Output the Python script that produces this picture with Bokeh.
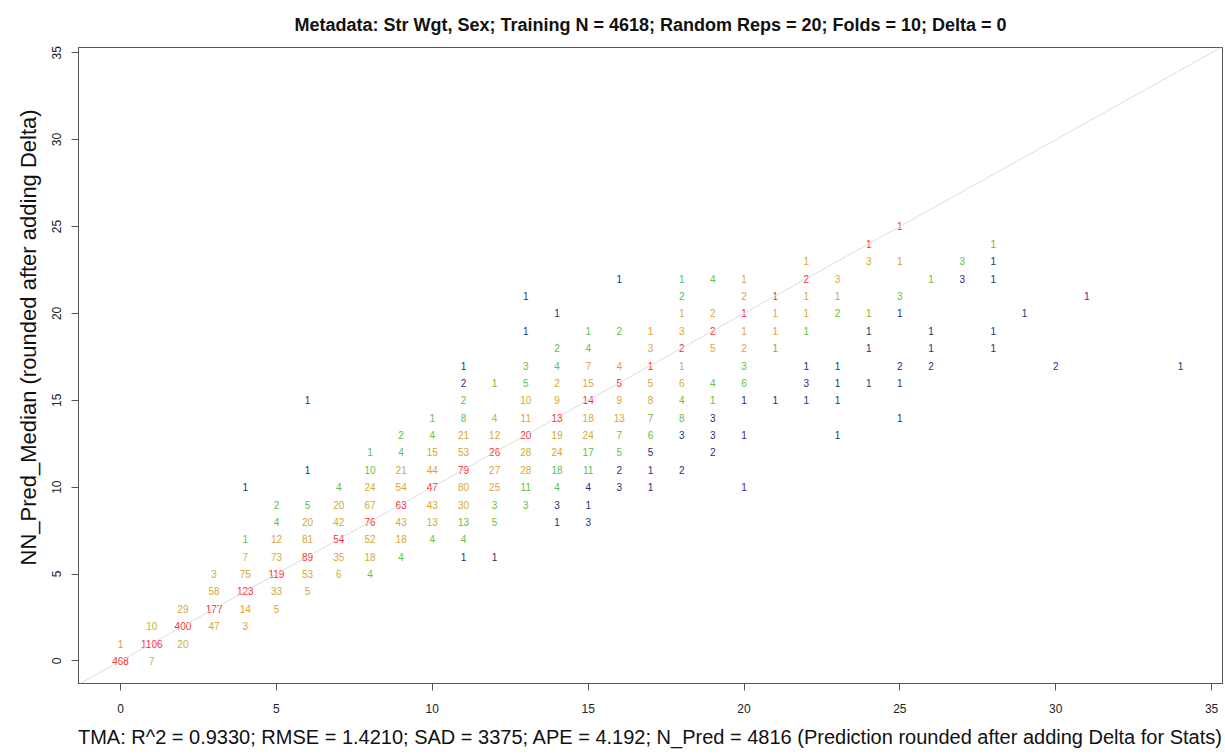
from bokeh.plotting import figure
from bokeh.models import Range1d, ColumnDataSource, FixedTicker, Slope, Title
from bokeh.embed import file_html
from bokeh.resources import INLINE
from bokeh.core.properties import value

# True (TMA) age, one line per age
tma_age = [
    0, 0,
    1, 1, 1,
    2, 2, 2,
    3, 3, 3, 3,
    4, 4, 4, 4, 4, 4, 4,
    5, 5, 5, 5, 5, 5, 5,
    6, 6, 6, 6, 6, 6, 6, 6,
    7, 7, 7, 7, 7, 7,
    8, 8, 8, 8, 8, 8, 8, 8,
    9, 9, 9, 9, 9, 9, 9, 9,
    10, 10, 10, 10, 10, 10, 10, 10,
    11, 11, 11, 11, 11, 11, 11, 11, 11, 11, 11, 11,
    12, 12, 12, 12, 12, 12, 12, 12, 12,
    13, 13, 13, 13, 13, 13, 13, 13, 13, 13, 13,
    14, 14, 14, 14, 14, 14, 14, 14, 14, 14, 14, 14,
    15, 15, 15, 15, 15, 15, 15, 15, 15, 15, 15, 15,
    16, 16, 16, 16, 16, 16, 16, 16, 16, 16,
    17, 17, 17, 17, 17, 17, 17, 17, 17, 17,
    18, 18, 18, 18, 18, 18, 18, 18, 18, 18, 18,
    19, 19, 19, 19, 19, 19, 19, 19, 19,
    20, 20, 20, 20, 20, 20, 20, 20, 20, 20,
    21, 21, 21, 21, 21,
    22, 22, 22, 22, 22, 22, 22, 22,
    23, 23, 23, 23, 23, 23, 23,
    24, 24, 24, 24, 24, 24,
    25, 25, 25, 25, 25, 25, 25,
    26, 26, 26, 26,
    27, 27,
    28, 28, 28, 28, 28,
    29,
    30,
    31,
    34,
]

# Rounded NN median prediction for each cell
pred_age = [
    0, 1,
    0, 1, 2,
    1, 2, 3,
    2, 3, 4, 5,
    2, 3, 4, 5, 6, 7, 10,
    3, 4, 5, 6, 7, 8, 9,
    4, 5, 6, 7, 8, 9, 11, 15,
    5, 6, 7, 8, 9, 10,
    5, 6, 7, 8, 9, 10, 11, 12,
    6, 7, 8, 9, 10, 11, 12, 13,
    7, 8, 9, 10, 11, 12, 13, 14,
    6, 7, 8, 9, 10, 11, 12, 13, 14, 15, 16, 17,
    6, 8, 9, 10, 11, 12, 13, 14, 16,
    9, 10, 11, 12, 13, 14, 15, 16, 17, 19, 21,
    8, 9, 10, 11, 12, 13, 14, 15, 16, 17, 18, 20,
    8, 9, 10, 11, 12, 13, 14, 15, 16, 17, 18, 19,
    10, 11, 12, 13, 14, 15, 16, 17, 19, 22,
    10, 11, 12, 13, 14, 15, 16, 17, 18, 19,
    11, 13, 14, 15, 16, 17, 18, 19, 20, 21, 22,
    12, 13, 14, 15, 16, 18, 19, 20, 22,
    10, 13, 15, 16, 17, 18, 19, 20, 21, 22,
    15, 18, 19, 20, 21,
    15, 16, 17, 19, 20, 21, 22, 23,
    13, 15, 16, 17, 20, 21, 22,
    16, 18, 19, 20, 23, 24,
    14, 16, 17, 20, 21, 23, 25,
    17, 18, 19, 22,
    22, 23,
    18, 19, 22, 23, 24,
    20,
    17,
    21,
    17,
]

# Number of otoliths in each (TMA, prediction) cell
n_obs = [
    468, 1,
    7, 1106, 10,
    20, 400, 29,
    47, 177, 58, 3,
    3, 14, 123, 75, 7, 1, 1,
    5, 33, 119, 73, 12, 4, 2,
    5, 53, 89, 81, 20, 5, 1, 1,
    6, 35, 54, 42, 20, 4,
    4, 18, 52, 76, 67, 24, 10, 1,
    4, 18, 43, 63, 54, 21, 4, 2,
    4, 13, 43, 47, 44, 15, 4, 1,
    1, 4, 13, 30, 80, 79, 53, 21, 8, 2, 2, 1,
    1, 5, 3, 25, 27, 26, 12, 4, 1,
    3, 11, 28, 28, 20, 11, 10, 5, 3, 1, 1,
    1, 3, 4, 18, 24, 19, 13, 9, 2, 4, 2, 1,
    3, 1, 4, 11, 17, 24, 18, 14, 15, 7, 4, 1,
    3, 2, 5, 7, 13, 9, 5, 4, 2, 1,
    1, 1, 5, 6, 7, 8, 5, 1, 3, 1,
    2, 3, 8, 4, 6, 1, 2, 3, 1, 2, 1,
    2, 3, 3, 1, 4, 5, 2, 2, 4,
    1, 1, 1, 6, 3, 2, 1, 1, 2, 1,
    1, 1, 1, 1, 1,
    1, 3, 1, 1, 1, 1, 2, 1,
    1, 1, 1, 1, 2, 1, 3,
    1, 1, 1, 1, 3, 1,
    1, 1, 2, 1, 3, 1, 1,
    2, 1, 1, 1,
    3, 3,
    1, 1, 1, 1, 1,
    1,
    2,
    1,
    1,
]

axis_ticks = [0, 5, 10, 15, 20, 25, 30, 35]

title_text = ("Metadata: Str Wgt, Sex; Training N = 4618; Random Reps = 20; "
              "Folds = 10; Delta = 0")
x_title = ("TMA: R^2 = 0.9330; RMSE = 1.4210; SAD = 3375; APE = 4.192; "
           "N_Pred = 4816 (Prediction rounded after adding Delta for Stats)")
y_title = "NN_Pred_Median (rounded after adding Delta)"

FONT = "Liberation Sans"


def shade(diff):
    """Colour a cell by how far the prediction is from the TMA age."""
    d = abs(diff)
    if d == 0:
        return "#FF2B2B"
    if d <= 2:
        return "#D6A832"
    if d <= 4:
        return "#62BF42"
    return "#2A2D80"


source = ColumnDataSource(dict(
    tma=tma_age,
    pred=pred_age,
    label=[str(n) for n in n_obs],
    color=[shade(p - t) for t, p in zip(tma_age, pred_age)],
))

p = figure(
    width=1225, height=755,
    x_range=Range1d(-1.35, 35.35), y_range=Range1d(-1.3, 35.3),
    output_backend="svg", toolbar_location=None,
    min_border_left=78, min_border_right=3,
    min_border_top=47, min_border_bottom=72,
    title=title_text,
)

p.title.align = "center"
p.title.vertical_align = "top"
p.title.text_font = FONT
p.title.text_font_size = "18px"
p.title.text_font_style = "bold"
p.title.text_color = "#111111"
p.title.text_line_height = 0.9
p.title.standoff = 22

p.xgrid.visible = False
p.ygrid.visible = False
p.outline_line_color = "#555555"
p.outline_line_width = 1
p.background_fill_color = "white"
p.border_fill_color = "white"

# 1:1 reference line
p.add_layout(Slope(gradient=1, y_intercept=0, line_color="#DDDDDD", line_width=1))

p.text(x="tma", y="pred", text="label", text_color="color", source=source,
       text_align="center", text_baseline="middle",
       text_font=value(FONT), text_font_size="10px")

for ax in (p.xaxis[0], p.yaxis[0]):
    ax.ticker = FixedTicker(ticks=axis_ticks)
    ax.minor_tick_line_color = None
    ax.major_tick_in = 0
    ax.major_tick_out = 7
    ax.major_tick_line_color = "#555555"
    ax.axis_line_color = "#555555"
    ax.major_label_text_font = FONT
    ax.major_label_text_font_size = "12px"
    ax.major_label_text_color = "#222222"
    ax.axis_label_text_font = FONT
    ax.axis_label_text_font_style = "normal"
    ax.axis_label_text_color = "#111111"

p.xaxis.axis_label = x_title
p.xaxis.axis_label_text_font_size = "20px"
p.xaxis.major_label_standoff = 13
p.xaxis.axis_label_standoff = 10

p.yaxis.major_label_orientation = "vertical"
p.yaxis.major_label_standoff = 10

# Y-axis caption, drawn outside the tick labels, starting above the frame bottom
p.add_layout(Title(
    text=y_title, align="left", offset=118, vertical_align="bottom",
    text_font=FONT, text_font_size="22px", text_font_style="normal",
    text_color="#111111", standoff=18,
), "left")

open("out.html", "w").write(file_html(p, INLINE))
